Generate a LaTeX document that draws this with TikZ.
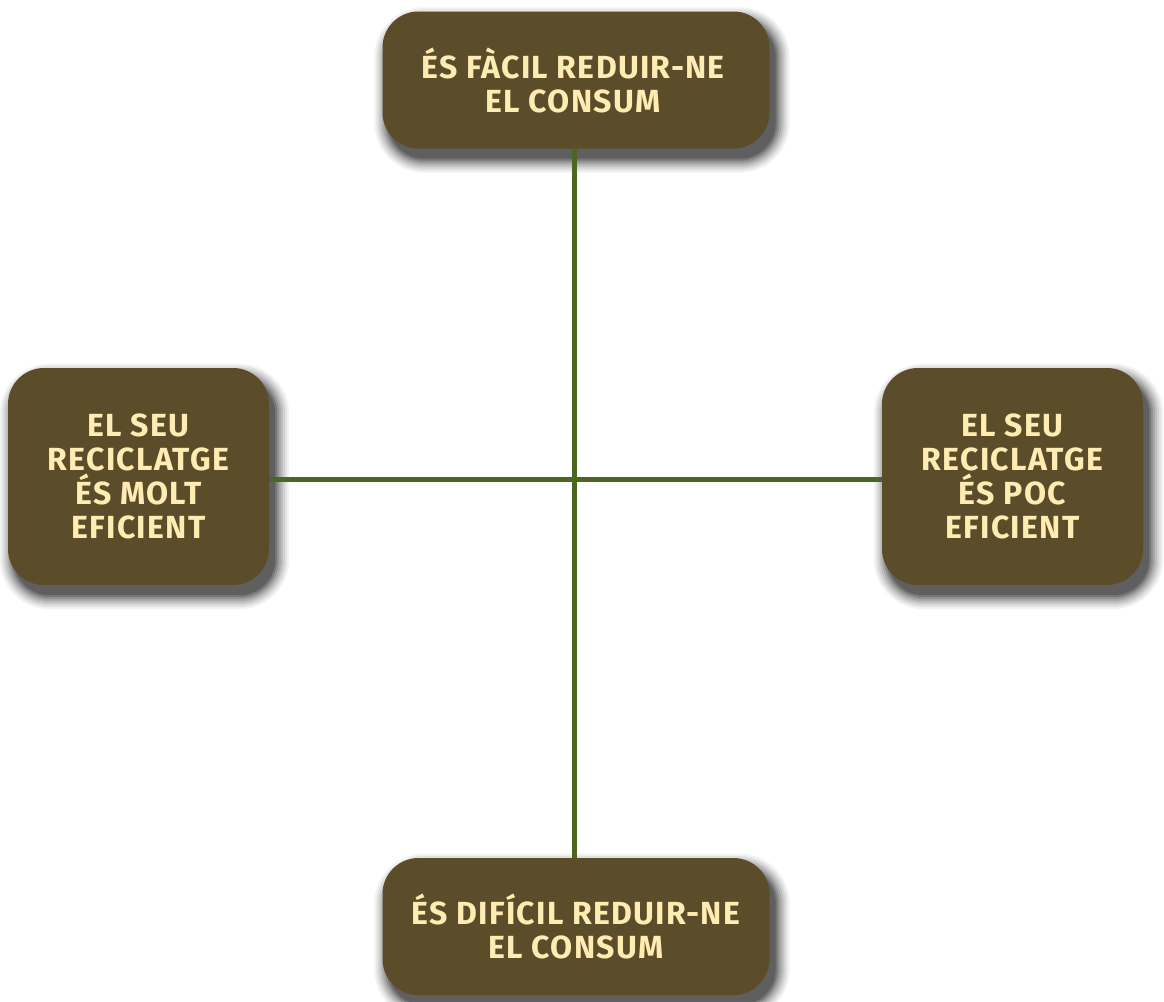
\documentclass[tikz,border=0pt]{standalone}
\usepackage{fontspec}
\setmainfont{Fira Sans}
\newfontfamily\cardfont{Fira Sans}[LetterSpace=4]
\definecolor{boxfill}{HTML}{5B4D29}
\definecolor{boxtext}{HTML}{FFECB3}
\definecolor{linegreen}{HTML}{4B6620}
\pgfdeclarelayer{shadowlayer}
\pgfdeclarelayer{linelayer}
\pgfsetlayers{shadowlayer,linelayer,main}
\newcommand\cardshadow[1]{%
  \foreach \e/\o in {14/0.05,12/0.06,10/0.07,8/0.09,6/0.11,4/0.14,2/0.18,0/0.2}{%
    \pgfmathsetmacro\rr{36+\e}%
    \fill[black, opacity=\o, rounded corners=\rr pt]
      ([shift={(6-\e,10-\e)}]#1.north west) rectangle ([shift={(6+\e,10+\e)}]#1.south east);
  }}
\begin{document}
\begin{tikzpicture}[x=1pt,y=-1pt,
  card/.style={rectangle, rounded corners=36pt, fill=boxfill, text=boxtext,
    font=\cardfont\fontsize{32}{34}\selectfont\bfseries, align=center, inner sep=0pt},
  widecard/.style={card, minimum width=387pt, minimum height=137pt},
  tallcard/.style={card, minimum width=261pt, minimum height=217pt},
  link/.style={draw=linegreen, line width=5pt}]
\useasboundingbox (0,0) rectangle (1164,1001);
\node[widecard] (top) at (576,80) {ÉS FÀCIL REDUIR-NE\hspace*{6pt}\\EL CONSUM\hspace*{6pt}};
\node[tallcard] (left) at (138.5,476.5) {EL SEU\\RECICLATGE\\ÉS MOLT\\EFICIENT};
\node[tallcard] (right) at (1012.5,476.5) {EL SEU\\RECICLATGE\\ÉS POC\\EFICIENT};
\node[widecard] (bottom) at (576,926.5) {ÉS DIFÍCIL REDUIR-NE\\EL CONSUM};
\begin{pgfonlayer}{shadowlayer}
  \fill[white] (0,0) rectangle (1164,1001);
  \cardshadow{top}
  \cardshadow{left}
  \cardshadow{right}
  \cardshadow{bottom}
\end{pgfonlayer}
\begin{pgfonlayer}{linelayer}
  \draw[link] ([xshift=-1.5pt]top.south) -- ([xshift=-1.5pt]bottom.north);
  \draw[link] ([yshift=-3pt]left.east) -- ([yshift=-3pt]right.west);
\end{pgfonlayer}
\end{tikzpicture}
\end{document}
